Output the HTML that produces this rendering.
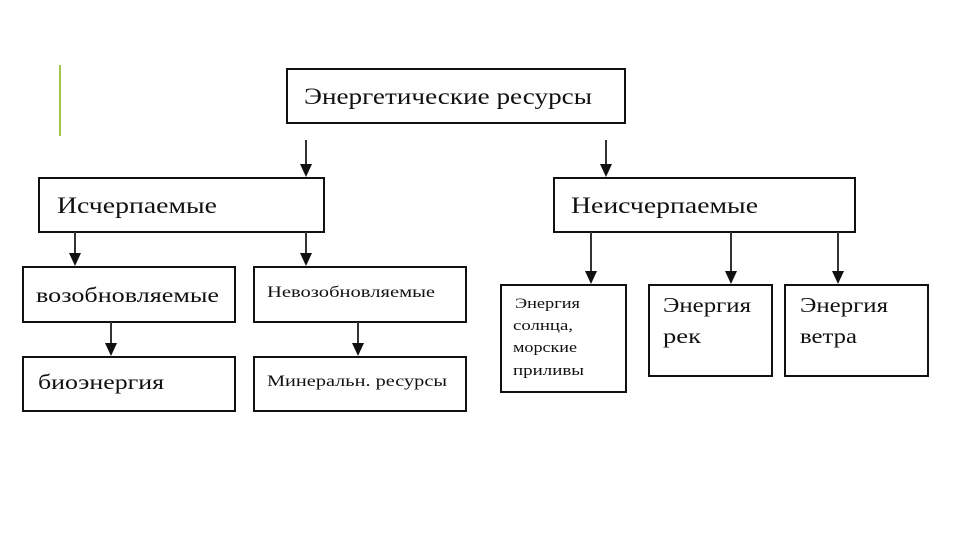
<!DOCTYPE html>
<html><head><meta charset="utf-8"><style>
body{margin:0;background:#fff;}
svg text{font-family:"Liberation Serif","Noto Serif CJK SC",serif;fill:#111;}
</style></head><body>
<svg width="960" height="540" viewBox="0 0 960 540" xmlns="http://www.w3.org/2000/svg">
<line x1="60" y1="65" x2="60" y2="136" stroke="#9fc54a" stroke-width="2"/>
<g fill="#fff" stroke="#111" stroke-width="2">
<rect x="287" y="69" width="338" height="54"/>
<rect x="39" y="178" width="285" height="54"/>
<rect x="554" y="178" width="301" height="54"/>
<rect x="23" y="267" width="212" height="55"/>
<rect x="254" y="267" width="212" height="55"/>
<rect x="23" y="357" width="212" height="54"/>
<rect x="254" y="357" width="212" height="54"/>
<rect x="501" y="285" width="125" height="107"/>
<rect x="649" y="285" width="123" height="91"/>
<rect x="785" y="285" width="143" height="91"/>
</g>
<g stroke="#333" stroke-width="2">
<line x1="306" y1="140" x2="306" y2="166"/>
<line x1="606" y1="140" x2="606" y2="166"/>
<line x1="75" y1="232" x2="75" y2="255"/>
<line x1="306" y1="232" x2="306" y2="255"/>
<line x1="111" y1="322" x2="111" y2="345"/>
<line x1="358" y1="322" x2="358" y2="345"/>
<line x1="591" y1="232" x2="591" y2="273"/>
<line x1="731" y1="232" x2="731" y2="273"/>
<line x1="838" y1="232" x2="838" y2="273"/>
</g>
<g fill="#111">
<path d="M300,164 L312,164 L306,177 z"/>
<path d="M600,164 L612,164 L606,177 z"/>
<path d="M69,253 L81,253 L75,266 z"/>
<path d="M300,253 L312,253 L306,266 z"/>
<path d="M105,343 L117,343 L111,356 z"/>
<path d="M352,343 L364,343 L358,356 z"/>
<path d="M585,271 L597,271 L591,284 z"/>
<path d="M725,271 L737,271 L731,284 z"/>
<path d="M832,271 L844,271 L838,284 z"/>
</g>
<text x="304" y="104" font-size="23" textLength="288" lengthAdjust="spacingAndGlyphs">Энергетические ресурсы</text>
<text x="57" y="213" font-size="23" textLength="160" lengthAdjust="spacingAndGlyphs">Исчерпаемые</text>
<text x="571" y="213" font-size="23" textLength="187" lengthAdjust="spacingAndGlyphs">Неисчерпаемые</text>
<text x="36" y="302" font-size="21" textLength="183" lengthAdjust="spacingAndGlyphs">возобновляемые</text>
<text x="267" y="297" font-size="16" textLength="168" lengthAdjust="spacingAndGlyphs">Невозобновляемые</text>
<text x="38" y="389" font-size="21" textLength="126" lengthAdjust="spacingAndGlyphs">биоэнергия</text>
<text x="267" y="386" font-size="16" textLength="180" lengthAdjust="spacingAndGlyphs">Минеральн. ресурсы</text>
<text font-size="15"><tspan x="515" y="308" textLength="65" lengthAdjust="spacingAndGlyphs">Энергия</tspan><tspan x="513" y="330" textLength="60" lengthAdjust="spacingAndGlyphs">солнца,</tspan><tspan x="513" y="352" textLength="64" lengthAdjust="spacingAndGlyphs">морские</tspan><tspan x="513" y="375" textLength="71" lengthAdjust="spacingAndGlyphs">приливы</tspan></text>
<text font-size="21"><tspan x="663" y="312" textLength="88" lengthAdjust="spacingAndGlyphs">Энергия</tspan><tspan x="663" y="343" textLength="38" lengthAdjust="spacingAndGlyphs">рек</tspan></text>
<text font-size="21"><tspan x="800" y="312" textLength="88" lengthAdjust="spacingAndGlyphs">Энергия</tspan><tspan x="800" y="343" textLength="57" lengthAdjust="spacingAndGlyphs">ветра</tspan></text>
</svg>
</body></html>
